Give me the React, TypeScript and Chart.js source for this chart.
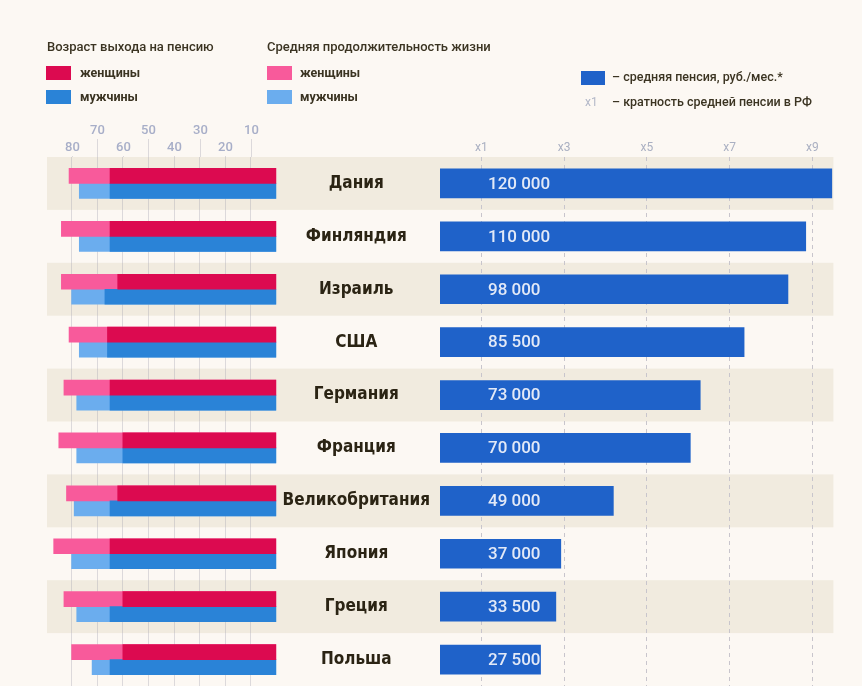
import React, { useEffect, useRef } from "react";
import { Chart, registerables } from "chart.js";

Chart.register(...registerables);

const countries = ["Дания", "Финляндия", "Израиль", "США", "Германия", "Франция", "Великобритания", "Япония", "Греция", "Польша"];
const retireWomen = [65, 65, 62, 66, 65, 60, 62, 65, 60, 60];
const retireMen = [65, 65, 67, 66, 65, 60, 65, 65, 65, 65];
const lifeWomen = [81, 84, 84, 81, 83, 85, 82, 87, 83, 80];
const lifeMen = [77, 77, 80, 77, 78, 78, 79, 80, 78, 72];
// average pension, rub./month (bar labels)
const pensionRub = [120000, 110000, 98000, 85500, 73000, 70000, 49000, 37000, 33500, 27500];
// bar length read against the "multiple of the average RF pension" axis
const pensionMultiple = [9.47, 8.84, 8.41, 7.35, 6.29, 6.05, 4.19, 2.92, 2.8, 2.43];
const multipleTicks = [1, 3, 5, 7, 9];
const ageTicksUpper = [70, 50, 30, 10];
const ageTicksLower = [80, 60, 40, 20];

const W = 862;
const H = 686;
const TOP = 157;
const BAND_LEFT = 47;
const BG = "#fcf8f3";
const BAND = "#f1ebdf";
const TEXT = "#3b3422";
const C_RED = "#dc0a50";
const C_PINK = "#f85a9b";
const C_BLUE = "#2a83d7";
const C_LBLUE = "#6badee";
const C_PBLUE = "#1f62c9";

const fmt = (v: number) => String(v).replace(/\B(?=(\d{3})+(?!\d))/g, " ");

export default function App() {
  const leftRef = useRef<HTMLCanvasElement | null>(null);
  const rightRef = useRef<HTMLCanvasElement | null>(null);

  useEffect(() => {
    const bandPlugin = {
      id: "bands",
      beforeDraw(chart: any) {
        const { ctx, chartArea } = chart;
        const y = chart.scales.y;
        const step = (chartArea.bottom - chartArea.top) / countries.length;
        ctx.save();
        ctx.fillStyle = BAND;
        countries.forEach((_, i) => {
          if (i % 2 === 0) {
            const cy = y.getPixelForValue(i);
            ctx.fillRect(BAND_LEFT, cy - step / 2, chartArea.right - 10 - BAND_LEFT, step);
          }
        });
        ctx.restore();
      },
    };

    const valuePlugin = {
      id: "values",
      afterDatasetsDraw(chart: any) {
        const { ctx } = chart;
        const meta = chart.getDatasetMeta(0);
        ctx.save();
        ctx.font = "500 17px Roboto";
        ctx.fillStyle = "#e2e9f7";
        ctx.textAlign = "left";
        ctx.textBaseline = "middle";
        meta.data.forEach((bar: any, i: number) => {
          ctx.fillText(fmt(pensionRub[i]), bar.base + 48, bar.y + 1);
        });
        ctx.restore();
      },
    };

    const ageAxisPlugin = {
      id: "ageAxis",
      afterDraw(chart: any) {
        const { ctx, chartArea } = chart;
        const x = chart.scales.x;
        ctx.save();
        ctx.font = "500 13px Roboto";
        ctx.fillStyle = "#a7aec8";
        ctx.textAlign = "center";
        ctx.textBaseline = "middle";
        ctx.strokeStyle = "rgba(160,160,175,0.35)";
        ctx.lineWidth = 1;
        const rows: [number[], number][] = [
          [ageTicksUpper, chartArea.top - 26],
          [ageTicksLower, chartArea.top - 9],
        ];
        rows.forEach(([vals, ly]) => {
          vals.forEach((v) => {
            const px = Math.round(x.getPixelForValue(v)) + 0.5;
            ctx.fillText(String(v), px, ly);
            ctx.beginPath();
            ctx.moveTo(px, ly + 8);
            ctx.lineTo(px, chartArea.top);
            ctx.stroke();
          });
        });
        ctx.restore();
      },
    };

    const right = new Chart(rightRef.current as HTMLCanvasElement, {
      type: "bar",
      data: {
        labels: countries,
        datasets: [
          {
            data: pensionMultiple,
            backgroundColor: C_PBLUE,
            barThickness: 29,
          },
        ],
      },
      options: {
        indexAxis: "y",
        animation: false,
        responsive: false,
        devicePixelRatio: 1,
        layout: { padding: { left: 0, right: 18.6, top: 137, bottom: 0 } },
        plugins: { legend: { display: false }, tooltip: { enabled: false } },
        scales: {
          x: {
            position: "top",
            min: 0,
            max: 9.75,
            afterFit: (s: any) => {
              s.height = 20;
            },
            afterBuildTicks: (s: any) => {
              s.ticks = multipleTicks.map((k) => ({ value: k }));
            },
            ticks: {
              callback: (v: any) => "x" + v,
              color: "#aab0c2",
              font: { family: "Roboto", size: 12 },
              padding: 2,
              maxRotation: 0,
            },
            grid: { color: "#c8c5cc", drawTicks: false, lineWidth: 1 },
            border: { display: false, dash: [4, 4] },
          },
          y: {
            position: "left",
            afterFit: (s: any) => {
              s.width = 440;
              s.paddingTop = 0;
              s.paddingBottom = 0;
            },
            ticks: {
              crossAlign: "center",
              padding: 10,
              color: "#2b2414",
              font: { family: "'DejaVu Sans Condensed', 'Liberation Sans Narrow', sans-serif", size: 17, weight: "bold" },
            },
            grid: { display: false, drawTicks: false },
            border: { display: false },
          },
        },
      },
      plugins: [bandPlugin, valuePlugin],
    } as any);

    const left = new Chart(leftRef.current as HTMLCanvasElement, {
      type: "bar",
      data: {
        labels: countries,
        datasets: [
          { label: "Возраст выхода на пенсию — женщины", data: retireWomen, backgroundColor: C_RED, stack: "w", barThickness: 15 },
          { label: "Возраст выхода на пенсию — мужчины", data: retireMen, backgroundColor: C_BLUE, stack: "m", barThickness: 15 },
          { label: "Средняя продолжительность жизни — женщины", data: lifeWomen, backgroundColor: C_PINK, stack: "w", barThickness: 15 },
          { label: "Средняя продолжительность жизни — мужчины", data: lifeMen, backgroundColor: C_LBLUE, stack: "m", barThickness: 15 },
        ],
      },
      options: {
        indexAxis: "y",
        animation: false,
        responsive: false,
        devicePixelRatio: 1,
        layout: { padding: { left: 46, right: 13.5, top: TOP, bottom: 0 } },
        plugins: { legend: { display: false }, tooltip: { enabled: false } },
        datasets: { bar: { categoryPercentage: 0.6, barPercentage: 1 } },
        scales: {
          x: {
            position: "top",
            reverse: true,
            stacked: false,
            min: 0,
            max: 90,
            ticks: { display: false, stepSize: 10 },
            grid: {
              drawTicks: false,
              color: (c: any) => (c.tick && (c.tick.value === 0 || c.tick.value === 90) ? "rgba(0,0,0,0)" : "rgba(160,160,175,0.35)"),
            },
            border: { display: false },
          },
          y: { display: false },
        },
      },
      plugins: [ageAxisPlugin],
    } as any);

    return () => {
      left.destroy();
      right.destroy();
    };
  }, []);

  const txt: React.CSSProperties = { position: "absolute", fontFamily: "Roboto, sans-serif", color: TEXT, whiteSpace: "nowrap", lineHeight: "16px" };
  const sw = (x: number, y: number, c: string, w = 25, h = 14): React.CSSProperties => ({ position: "absolute", left: x, top: y, width: w, height: h, background: c });

  return (
    <div style={{ position: "absolute", left: 0, top: 0, width: W, height: H, background: BG, overflow: "hidden" }}>
      <canvas ref={rightRef} width={W} height={H} style={{ position: "absolute", left: 0, top: 0 }} />
      <canvas ref={leftRef} width={290} height={H} style={{ position: "absolute", left: 0, top: 0 }} />

      <div style={{ ...txt, left: 47, top: 39, fontSize: 13, fontWeight: 500 }}>Возраст выхода на пенсию</div>
      <div style={sw(46, 66, C_RED)} />
      <div style={{ ...txt, left: 80, top: 65, fontSize: 12.5, fontWeight: 700 }}>женщины</div>
      <div style={sw(46, 90, C_BLUE)} />
      <div style={{ ...txt, left: 80, top: 89, fontSize: 12.5, fontWeight: 700 }}>мужчины</div>

      <div style={{ ...txt, left: 267, top: 39, fontSize: 13, fontWeight: 500 }}>Средняя продолжительность жизни</div>
      <div style={sw(267, 66, C_PINK)} />
      <div style={{ ...txt, left: 300, top: 65, fontSize: 12.5, fontWeight: 700 }}>женщины</div>
      <div style={sw(267, 90, C_LBLUE)} />
      <div style={{ ...txt, left: 300, top: 89, fontSize: 12.5, fontWeight: 700 }}>мужчины</div>

      <div style={sw(581, 71, C_PBLUE, 24, 14)} />
      <div style={{ ...txt, left: 612, top: 69, fontSize: 12.5, fontWeight: 500 }}>– средняя пенсия, руб./мес.*</div>
      <div style={{ ...txt, left: 585, top: 94, fontSize: 12, color: "#b3b8c8" }}>x1</div>
      <div style={{ ...txt, left: 612, top: 94, fontSize: 12.5, fontWeight: 500 }}>– кратность средней пенсии в РФ</div>
    </div>
  );
}
